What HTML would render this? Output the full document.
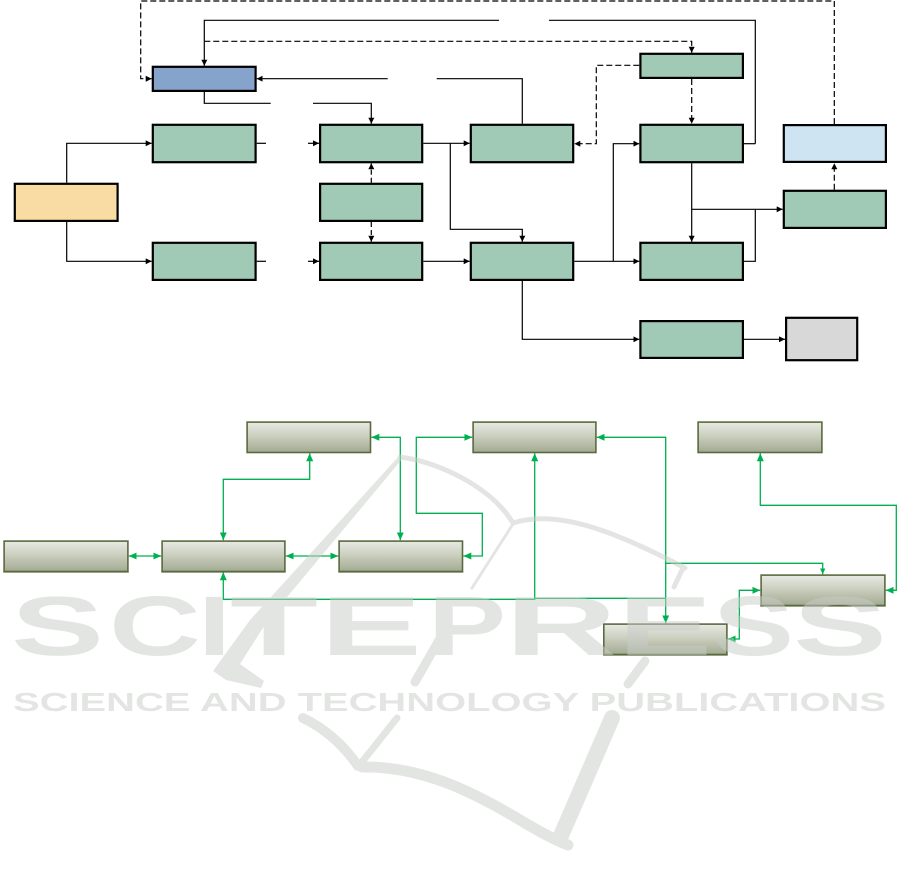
<!DOCTYPE html>
<html>
<head>
<meta charset="utf-8">
<style>
html,body{margin:0;padding:0;background:#fff;width:901px;height:885px;overflow:hidden}
svg{display:block}
</style>
</head>
<body>
<svg width="901" height="885" viewBox="0 0 901 885" xmlns="http://www.w3.org/2000/svg">
<defs>
<marker id="a" markerWidth="7" markerHeight="7" refX="6" refY="3" orient="auto" markerUnits="userSpaceOnUse"><path d="M0,0 L6,3 L0,6 z" fill="#000"/></marker>
<marker id="g" markerWidth="10" markerHeight="8" refX="8" refY="3.5" orient="auto-start-reverse" markerUnits="userSpaceOnUse"><path d="M0,0 L8,3.5 L0,7 z" fill="#00b050"/></marker>
<marker id="gs" markerWidth="8" markerHeight="6" refX="6" refY="2.75" orient="auto" markerUnits="userSpaceOnUse"><path d="M0,0 L6,2.75 L0,5.5 z" fill="#00b050"/></marker>
<linearGradient id="bg" x1="0" y1="0" x2="0" y2="1">
<stop offset="0" stop-color="#e8eae4"/>
<stop offset="0.5" stop-color="#c7ccbb"/>
<stop offset="1" stop-color="#a2aa92"/>
</linearGradient>
</defs>

<!-- ===== TOP DIAGRAM: connectors ===== -->
<g fill="none" stroke="#000" stroke-width="1.2">
  <path d="M834.3,124 V1 H140.7 V78.7 H151.7" stroke-dasharray="6,3" marker-end="url(#a)"/>
  <path d="M755.3,143.7 H744"/>
  <path d="M549,20.3 H755.3 V143.7"/>
  <path d="M499,20.3 H204.3 V65.7" marker-end="url(#a)"/>
  <path d="M204.3,41.3 H691.7 V52.7" stroke-dasharray="6,3" marker-end="url(#a)"/>
  <path d="M639.3,65.3 H596.3 V143.7 H574.3" stroke-dasharray="6,3" marker-end="url(#a)"/>
  <path d="M691.7,79 V123.7" stroke-dasharray="6,3" marker-end="url(#a)"/>
  <path d="M522.3,123.7 V78.7 H436.7"/>
  <path d="M387.7,78.7 H256.7" marker-end="url(#a)"/>
  <path d="M204.3,92 V103.3 H270.7"/>
  <path d="M313,103.3 H371.3 V123.7" marker-end="url(#a)"/>
  <path d="M66.7,182.7 V143.3 H151.7" marker-end="url(#a)"/>
  <path d="M66.7,222 V261.3 H151.7" marker-end="url(#a)"/>
  <path d="M256.7,143.3 H266"/>
  <path d="M308,143.3 H319" marker-end="url(#a)"/>
  <path d="M256.7,261.3 H266"/>
  <path d="M308,261.3 H319" marker-end="url(#a)"/>
  <path d="M371.3,182.7 V163.3" stroke-dasharray="5,3" marker-end="url(#a)"/>
  <path d="M371.3,222 V241.7" stroke-dasharray="5,3" marker-end="url(#a)"/>
  <path d="M423.3,143.3 H469.7" marker-end="url(#a)"/>
  <path d="M450.3,143.3 V229.3 H522.3 V241.7" marker-end="url(#a)"/>
  <path d="M423.3,261.3 H469.7" marker-end="url(#a)"/>
  <path d="M574.3,261.3 H639.3" marker-end="url(#a)"/>
  <path d="M613.3,261.3 V143.7 H639.3" marker-end="url(#a)"/>
  <path d="M691.7,163.3 V241.7" marker-end="url(#a)"/>
  <path d="M691.7,209.3 H782.7" marker-end="url(#a)"/>
  <path d="M744,261.3 H755.3 V209.3"/>
  <path d="M834.3,189.7 V163.3" stroke-dasharray="6,3" marker-end="url(#a)"/>
  <path d="M522.3,281 V339.3 H639.3" marker-end="url(#a)"/>
  <path d="M744,339.3 H785" marker-end="url(#a)"/>
</g>

<!-- ===== TOP DIAGRAM: boxes ===== -->
<g stroke="#000" stroke-width="2.2">
  <rect x="152.8" y="66.8" width="102.8" height="24.1" fill="#86a4cb"/>
  <rect x="152.8" y="124.8" width="102.8" height="37.4" fill="#a0cab6"/>
  <rect x="14.8" y="183.8" width="102.8" height="37.1" fill="#f8dca3"/>
  <rect x="152.8" y="242.8" width="102.8" height="37.1" fill="#a0cab6"/>

  <rect x="320.1" y="124.8" width="102.1" height="37.4" fill="#a0cab6"/>
  <rect x="320.1" y="183.8" width="102.1" height="37.1" fill="#a0cab6"/>
  <rect x="320.1" y="242.8" width="102.1" height="37.1" fill="#a0cab6"/>

  <rect x="470.8" y="124.8" width="102.4" height="37.4" fill="#a0cab6"/>
  <rect x="470.8" y="242.8" width="102.4" height="37.1" fill="#a0cab6"/>

  <rect x="640.4" y="53.8" width="102.5" height="24.1" fill="#a0cab6"/>
  <rect x="640.4" y="124.8" width="102.5" height="37.4" fill="#a0cab6"/>
  <rect x="640.4" y="242.8" width="102.5" height="37.1" fill="#a0cab6"/>
  <rect x="640.4" y="321.1" width="102.5" height="36.8" fill="#a0cab6"/>

  <rect x="783.8" y="125.1" width="102.1" height="36.8" fill="#cfe4f2"/>
  <rect x="783.8" y="190.8" width="102.1" height="37.1" fill="#a0cab6"/>

  <rect x="786.1" y="317.8" width="71.1" height="42.4" fill="#d8d8d8"/>
</g>

<!-- ===== LOWER DIAGRAM: connectors ===== -->
<g fill="none" stroke="#00b050" stroke-width="1.3">
  <path d="M128.7,556 H161.3" marker-start="url(#g)" marker-end="url(#g)"/>
  <path d="M285.7,556 H338.3" marker-start="url(#g)" marker-end="url(#g)"/>
  <path d="M223.3,540.3 V479.3 H309.7 V453.3" marker-start="url(#g)" marker-end="url(#g)"/>
  <path d="M371.3,437.3 H400.3 V540.3" marker-start="url(#g)" marker-end="url(#g)"/>
  <path d="M463.3,556 H482.3 V513.3 H416.3 V437.3 H472.3" marker-start="url(#g)" marker-end="url(#g)"/>
  <path d="M223.3,572.3 V599.3 H534.7 V453.3" marker-start="url(#g)" marker-end="url(#g)"/>
  <path d="M534.7,598.3 H665.7"/>
  <path d="M596.7,437.3 H665.7 V623.3" marker-start="url(#g)" marker-end="url(#g)"/>
  <path d="M665.7,563.3 H822.7 V574.3" marker-end="url(#gs)"/>
  <path d="M727.7,639 H739.3 V590.3 H760.3" marker-start="url(#g)" marker-end="url(#g)"/>
  <path d="M885.7,590.3 H896.3 V505.3 H760.3 V453.3" marker-start="url(#g)" marker-end="url(#g)"/>
</g>

<!-- ===== LOWER DIAGRAM: boxes ===== -->
<g stroke="#5b6a3e" stroke-width="1.6" fill="url(#bg)">
  <rect x="247.1" y="422.1" width="123.4" height="30.4"/>
  <rect x="4.1" y="541.1" width="123.8" height="30.4"/>
  <rect x="162.1" y="541.1" width="122.8" height="30.4"/>
  <rect x="339.1" y="541.1" width="123.4" height="30.4"/>
  <rect x="473.1" y="422.1" width="122.8" height="30.4"/>
  <rect x="698.1" y="422.1" width="123.8" height="30.4"/>
  <rect x="761.1" y="575.1" width="123.8" height="30.4"/>
  <rect x="603.8" y="624.1" width="123.1" height="30.4"/>
</g>
<g stroke="#5b6a3e" stroke-width="1.2">
  <line x1="3.3" y1="572" x2="128.7" y2="572"/>
  <line x1="161.3" y1="572" x2="285.7" y2="572"/>
  <line x1="338.3" y1="572" x2="463.3" y2="572"/>
  <line x1="760.3" y1="606" x2="885.7" y2="606"/>
  <line x1="603" y1="655" x2="727.7" y2="655"/>
</g>

<!-- ===== WATERMARK ===== -->
<g opacity="0.5" fill="#c9cdc9" stroke="none">
  <polygon points="400,455 403,458 268,620 240,664 264,681 261,688 226,680 213,671 250,620"/>
  <g fill="none" stroke="#c9cdc9" stroke-linecap="round">
    <path d="M400,457 C440,462 492,488 513,523" stroke-width="5"/>
    <path d="M513,523 C560,508 622,535 685,568" stroke-width="5"/>
    <path d="M513,524 L472,588" stroke-width="3"/>
    <path d="M446,628 L415,682" stroke-width="9"/>
    <path d="M397,718 L362,762" stroke-width="7"/>
    <path d="M683,568 L674,587" stroke-width="5"/>
    <path d="M645,661 L628,684" stroke-width="9"/>
    <path d="M612,718 L560,838" stroke-width="16"/>
    <path d="M303,718 Q336,734 358,766" stroke-width="10"/>
    <path d="M362,767 C420,766 470,790 520,820 C540,832 555,840 568,845" stroke-width="11"/>
  </g>
  <g font-family="Liberation Sans, DejaVu Sans, sans-serif" font-weight="bold" font-size="84" lengthAdjust="spacingAndGlyphs">
    <text x="11" y="655" textLength="93" lengthAdjust="spacingAndGlyphs">S</text>
    <text x="109" y="655" textLength="92" lengthAdjust="spacingAndGlyphs">C</text>
    <text x="198" y="655" textLength="33" lengthAdjust="spacingAndGlyphs">I</text>
    <text x="230" y="655" textLength="88" lengthAdjust="spacingAndGlyphs">T</text>
    <text x="320" y="655" textLength="102" lengthAdjust="spacingAndGlyphs">E</text>
    <text x="428" y="655" textLength="78" lengthAdjust="spacingAndGlyphs">P</text>
    <text x="505" y="655" textLength="112" lengthAdjust="spacingAndGlyphs">R</text>
    <text x="618" y="655" textLength="94" lengthAdjust="spacingAndGlyphs">E</text>
    <text x="713" y="655" textLength="81" lengthAdjust="spacingAndGlyphs">S</text>
    <text x="793" y="655" textLength="94" lengthAdjust="spacingAndGlyphs">S</text>
  </g>
  <text x="13" y="711" font-family="Liberation Sans, DejaVu Sans, sans-serif" font-weight="bold" font-size="26" textLength="873" lengthAdjust="spacingAndGlyphs">SCIENCE AND TECHNOLOGY PUBLICATIONS</text>
</g>
</svg>
</body>
</html>
